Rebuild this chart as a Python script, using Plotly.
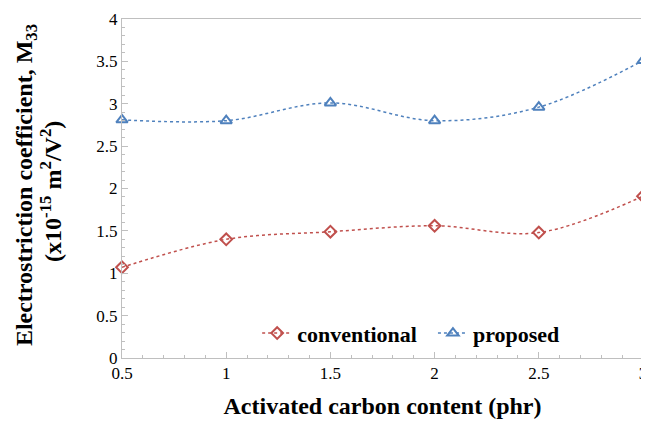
import plotly.graph_objects as go

carbon = [0.5, 1.0, 1.5, 2.0, 2.5, 3.0]
conventional = [1.07, 1.40, 1.49, 1.56, 1.48, 1.91]
proposed = [2.81, 2.80, 3.01, 2.80, 2.96, 3.51]

FONT = "Liberation Serif, Times New Roman, serif"
RED = "#C0504D"
BLUE = "#4F81BD"
AX = "#BFBFBF"
NB = "\u00a0"

fig = go.Figure()
fig.add_trace(go.Scatter(
    x=carbon, y=conventional, name="<b>conventional</b>" + NB * 2, mode="lines+markers",
    line=dict(color=RED, width=1.5, dash="dot", shape="spline", smoothing=1),
    marker=dict(symbol="diamond-open", size=9, color=RED, line=dict(width=2, color=RED)),
    cliponaxis=False))
fig.add_trace(go.Scatter(
    x=carbon, y=proposed, name="<b>proposed</b>", mode="lines+markers",
    line=dict(color=BLUE, width=1.5, dash="dot", shape="spline", smoothing=1),
    marker=dict(symbol="triangle-up-open", size=10, color=BLUE, line=dict(width=2, color=BLUE)),
    cliponaxis=False))

fig.update_layout(
    width=641, height=428,
    margin=dict(l=114, r=2, t=7, b=78),
    paper_bgcolor="white", plot_bgcolor="white",
    font=dict(family=FONT, color="black", size=17),
    showlegend=True,
    legend=dict(orientation="h", x=0.555, y=0.073, xanchor="center", yanchor="middle",
                font=dict(family=FONT, size=22, color="black"), bgcolor="rgba(0,0,0,0)",
                itemwidth=30),
    xaxis=dict(range=[0.5, 3.0], tickvals=[0.5, 1, 1.5, 2, 2.5, 3],
               ticktext=["0.5", "1", "1.5", "2", "2.5", "3"],
               showgrid=False, zeroline=False, showline=True, linecolor=AX, linewidth=1,
               mirror=True, ticks="inside", ticklen=6, tickcolor=AX,
               minor=dict(dtick=0.1, ticks="inside", ticklen=3, tickcolor=AX),
               tickfont=dict(family=FONT, size=17), ticklabeloverflow="allow",
               title=dict(text="<b>Activated carbon content (phr)</b>", standoff=14,
                          font=dict(family=FONT, size=24))),
    yaxis=dict(range=[0, 4], tickvals=[0, 0.5, 1, 1.5, 2, 2.5, 3, 3.5, 4],
               ticktext=["0", "0.5", "1", "1.5", "2", "2.5", "3", "3.5", "4"],
               showgrid=False, zeroline=False, showline=True, linecolor=AX, linewidth=1,
               ticks="inside", ticklen=6, tickcolor=AX,
               minor=dict(dtick=0.1, ticks="inside", ticklen=3, tickcolor=AX),
               tickfont=dict(family=FONT, size=17), ticklabeloverflow="allow"),
    annotations=[
        dict(text="<b>Electrostriction coefficient, M<sub>33</sub></b>", textangle=-90,
             xref="paper", yref="paper", x=0, y=0.51, xanchor="center", yanchor="middle",
             xshift=-96, showarrow=False, font=dict(family=FONT, size=24, color="black")),
        dict(text="<b>(x10<sup>-15</sup> m<sup>2</sup>/V<sup>2</sup>)</b>", textangle=-90,
             xref="paper", yref="paper", x=0, y=0.49, xanchor="center", yanchor="middle",
             xshift=-71, showarrow=False, font=dict(family=FONT, size=24, color="black")),
    ],
)

fig.write_html("out.html")
